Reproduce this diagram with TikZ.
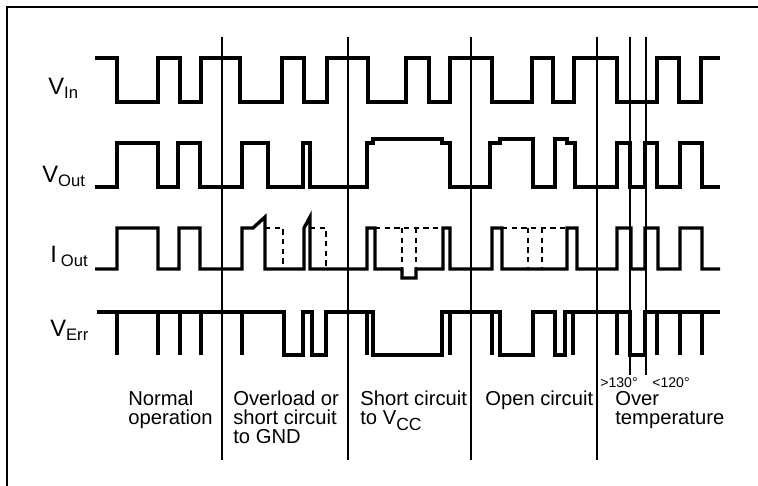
\documentclass[tikz,border=0pt]{standalone}
\usepackage{fontspec}
\setmainfont{Liberation Sans}
\usetikzlibrary{positioning}

\begin{document}
\begin{tikzpicture}[
    x=0.02cm, y=-0.02cm,
    trace/.style={line width=1.9pt, line join=miter},
    ghost/.style={line width=0.8pt, dash pattern=on 3pt off 2.5pt},
    divider/.style={line width=0.7pt},
    signame/.style={anchor=base west, inner sep=0pt, font={\fontsize{13.5}{13.5}\selectfont}},
    phase/.style={anchor=north west, inner sep=0pt, align=left, font={\fontsize{11.5}{10.8}\selectfont}},
    templbl/.style={anchor=base west, inner sep=0pt, font={\fontsize{8}{8}\selectfont}}
]
    \useasboundingbox (0,0) rectangle (758,486);
    \draw[divider] (758,7) -- (7,7) -- (7,486);

    % phase borders
    \foreach \x in {222,348,471,597}
        \draw[divider] (\x,37) -- (\x,460);
    \foreach \x in {630,646}
        \draw[divider] (\x,37) -- (\x,375);

    % signal names
    \node[signame] (vin)  at (48,95)  {V\textsubscript{In}};
    \node[signame] (vout) at (42,183) {V\textsubscript{Out}};
    \node[signame] (iout) at (50,263) {I\,\textsubscript{Out}};
    \node[signame] (verr) at (50,337) {V\textsubscript{Err}};

    % V_in
    \draw[trace] (95,58) -| (117,102) -| (158,58) -| (180,102) -| (201,58) -| (240,102)
        -| (282,58) -| (304,102) -| (327,58) -| (368,102) -| (406,58) -| (429,102)
        -| (450,58) -| (492,102) -| (532,58) -| (553,102) -| (574,58) -| (617,102)
        -| (657,58) -| (679,102) -| (701,58) -- (720,58);

    % V_out
    \draw[trace] (95,187) -| (117,143) -| (158,187) -| (178,143) -| (200,187) -| (242,143)
        -| (268,187) -| (303,143) -| (310,187) -| (367,143) -| (373,139) -| (442,143)
        -| (450,187) -| (490,143) -| (500,139) -| (533,187) -| (555,139) -| (567,143)
        -| (575,187) -| (617,143) -| (630,187) -| (645,143) -| (657,187) -| (680,143)
        -| (702,187) -- (720,187);

    % I_out
    \draw[trace] (95,269) -| (117,228) -| (158,269) -| (179,228) -| (200,269) -| (242,228)
        -- (253,228) -- (265,217) -- (265,269) -| (304,228) -- (310,217) -- (310,269)
        -| (367,228) -| (375,269) -- (402,269) -- (402,278) -| (416,269) -| (443,228)
        -| (450,269) -| (492,228) -| (502,269) -| (567,228) -| (577,269) -| (617,228)
        -| (631,269) -| (645,228) -| (658,269) -| (680,228) -| (702,269) -- (720,269);
    \draw[ghost] (265,228) -| (283,269);
    \draw[ghost] (310,228) -| (326,269);
    \draw[ghost] (375,228) -- (443,228);
    \draw[ghost] (502,228) -- (567,228);
    \foreach \x in {402,416,528,542}
        \draw[ghost] (\x,228) -- (\x,269);

    % V_err
    \draw[trace] (97,312) -- (284,312) -- (284,355) -| (303,312) -| (312,355) -| (326,312)
        -| (373,355) -| (442,312) -| (500,355) -| (533,312) -| (555,355) -| (565,312)
        -| (630,355) -| (645,312) -- (720,312);
    \foreach \x in {117,158,180,201,242,367,450,492,573,617,657,680,702}
        \draw[trace] (\x,312) -- (\x,355);

    % phase names
    \node[phase] (normal) at (128,391) {Normal\\operation};
    \node[phase] (gnd)    at (233,391) {Overload or\\short circuit\\to GND};
    \node[phase] (vcc)    at (360,391) {Short circuit\\to V\raisebox{-3pt}{\fontsize{10}{10}\selectfont CC}};
    \node[phase] (open)   at (485,391) {Open circuit};
    \node[phase] (hot)    at (615,391) {Over\\temperature};
    \node[templbl] (off)  at (600,388) {>130°};
    \node[templbl] (on)   at (652,388) {<120°};
\end{tikzpicture}
\end{document}
